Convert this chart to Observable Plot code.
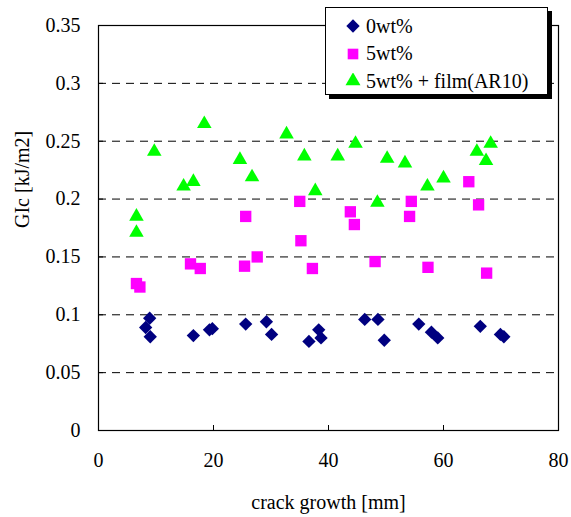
<!DOCTYPE html>
<html>
<head>
<meta charset="utf-8">
<script src="https://cdn.jsdelivr.net/npm/d3@7"></script>
<script src="https://cdn.jsdelivr.net/npm/@observablehq/plot@0.6"></script>
</head>
<body style="margin:0;padding:0;background:#fff">
<div id="wrap" style="position:relative;width:571px;height:517px;font-family:'Liberation Serif'"></div>
<script>
// ---- data ----
const series = ["0wt%", "5wt%", "5wt% + film(AR10)"];
const colors = ["#000080", "#FF00FF", "#00FF00"];

const x0 = [8.9, 8.2, 9.0, 16.5, 19.3, 19.8, 25.6, 29.2, 30.1, 36.6, 38.3, 38.7, 46.3, 48.6, 49.7, 55.7, 57.9, 59.0, 66.4, 69.9, 70.5];
const y0 = [0.097, 0.089, 0.081, 0.082, 0.087, 0.088, 0.092, 0.094, 0.083, 0.077, 0.087, 0.080, 0.096, 0.096, 0.078, 0.092, 0.085, 0.080, 0.090, 0.083, 0.081];

const x5 = [6.6, 7.2, 16.0, 17.7, 25.6, 25.4, 27.6, 35.0, 35.2, 37.2, 43.8, 44.5, 48.1, 54.4, 54.1, 57.3, 64.4, 66.1, 67.5];
const y5 = [0.127, 0.124, 0.144, 0.140, 0.185, 0.142, 0.150, 0.198, 0.164, 0.140, 0.189, 0.178, 0.146, 0.198, 0.185, 0.141, 0.215, 0.195, 0.136];

const xf = [6.6, 6.6, 9.7, 14.8, 16.5, 18.4, 24.6, 26.7, 32.7, 35.8, 37.7, 41.6, 44.7, 48.5, 50.2, 53.3, 57.2, 60.0, 65.8, 67.4, 68.2];
const yf = [0.185, 0.171, 0.241, 0.211, 0.215, 0.265, 0.234, 0.219, 0.256, 0.237, 0.207, 0.237, 0.248, 0.197, 0.235, 0.231, 0.211, 0.218, 0.241, 0.233, 0.248];

const xTicks = [0, 20, 40, 60, 80];
const yTicks = [0, 0.05, 0.1, 0.15, 0.2, 0.25, 0.3, 0.35];
const gridY = [0.05, 0.1, 0.15, 0.2, 0.25, 0.3];
const xLabel = "crack growth [mm]";
const yLabel = "GIc [kJ/m2]";

const d0 = x0.map((x, i) => ({x, y: y0[i]}));
const d5 = x5.map((x, i) => ({x, y: y5[i]}));
const df = xf.map((x, i) => ({x, y: yf[i]}));

const W = 571, H = 517, mL = 98, mR = 13, mT = 25, mB = 87;
const pw = W - mL - mR, ph = H - mT - mB;
const FONT = "Liberation Serif";
const FS = 20;

const chart = Plot.plot({
  width: W, height: H,
  marginLeft: mL, marginRight: mR, marginTop: mT, marginBottom: mB,
  style: {fontFamily: FONT, fontSize: FS + "px", background: "#fff", color: "#000"},
  x: {domain: [0, 80]},
  y: {domain: [0, 0.35]},
  marks: [
    Plot.ruleY(gridY, {stroke: "#000", strokeWidth: 1, strokeDasharray: "8,6"}),
    Plot.ruleX(xTicks.slice(1, -1), {stroke: "#000", insetTop: ph - 5}),
    Plot.ruleY(yTicks.slice(1, -1), {stroke: "#000", insetRight: pw - 5}),
    Plot.axisX({ticks: xTicks, tickSize: 0, tickPadding: 22, tickFormat: d => String(d), label: null, fontSize: FS}),
    Plot.axisY({ticks: yTicks, tickSize: 0, tickPadding: 18, tickFormat: d => String(d), label: null, fontSize: FS}),
    Plot.text([xLabel], {frameAnchor: "bottom", dy: 72, fontSize: FS, lineAnchor: "middle"}),
    Plot.text([yLabel], {frameAnchor: "left", dx: -76, rotate: -90, fontSize: FS, lineAnchor: "middle"}),
    Plot.dot(df, {x: "x", y: "y", symbol: "triangle", r: 5.4, fill: colors[2], stroke: "none"}),
    Plot.dot(d5, {x: "x", y: "y", symbol: "square", r: 6.4, fill: colors[1], stroke: "none"}),
    Plot.dot(d0, {x: "x", y: "y", symbol: "diamond2", r: 6.0, fill: colors[0], stroke: "none"}),
    Plot.frame({stroke: "#000", strokeWidth: 1.2})
  ]
});

d3.select(chart).attr("font-family", FONT).style("font-family", FONT);
d3.select(chart).selectAll("g, text").attr("font-family", FONT).style("font-family", FONT);

const wrap = document.getElementById("wrap");
wrap.appendChild(chart);

// legend
const legend = document.createElement("div");
legend.setAttribute("style",
  "position:absolute;left:325px;top:7px;width:223px;height:88px;box-sizing:border-box;" +
  "border:1px solid #000;background:#fff;box-shadow:4px 4px 0 #000;" +
  "font-family:'Liberation Serif';font-size:" + FS + "px;color:#000");
const syms = [d3.symbolDiamond2, d3.symbolSquare, d3.symbolTriangle];
const sizes = [Math.PI * 36, Math.PI * 36, Math.PI * 31];
series.forEach((s, i) => {
  const row = document.createElement("div");
  row.setAttribute("style",
    "position:absolute;left:19px;height:22px;display:flex;align-items:center;white-space:nowrap;top:" + (7 + i * 27.5) + "px");
  const svg = d3.create("svg").attr("width", 16).attr("height", 16).style("margin-right", "5px");
  svg.append("path").attr("transform", "translate(8,8)")
    .attr("d", d3.symbol(syms[i], sizes[i])()).attr("fill", colors[i]);
  row.appendChild(svg.node());
  const t = document.createElement("span");
  t.setAttribute("style", "font-family:'Liberation Serif';font-size:" + FS + "px");
  t.textContent = s;
  row.appendChild(t);
  legend.appendChild(row);
});
wrap.appendChild(legend);
</script>
</body>
</html>
